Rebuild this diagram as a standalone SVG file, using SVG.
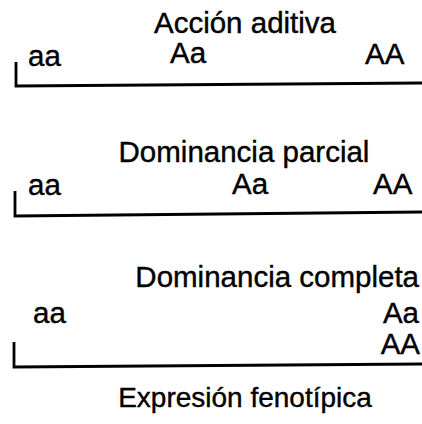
<svg xmlns="http://www.w3.org/2000/svg" width="422" height="424" viewBox="0 0 422 424">
<style>
text{font-family:"Liberation Sans",Arial,sans-serif;font-size:29.5px;fill:#000;stroke:#000;stroke-width:0.4}
.c{text-anchor:middle}
.e{text-anchor:end}
.ax{fill:none;stroke:#000;stroke-width:2.8}
</style>
<rect width="422" height="424" fill="#fff"/>
<g id="connectors">
<path class="ax" d="M16,62 V86 L422,83"/>
<path class="ax" d="M15,191 V216 L422,212"/>
<path class="ax" d="M14,342 V367 L422,364"/>
</g>
<g id="aditiva">
<text class="c" x="245" y="33">Acción aditiva</text>
<text x="28" y="66">aa</text>
<text x="170" y="63">Aa</text>
<text x="365" y="64">AA</text>
</g>
<g id="parcial">
<text class="c" x="244" y="162">Dominancia parcial</text>
<text x="28" y="195">aa</text>
<text x="232" y="194">Aa</text>
<text x="373" y="194">AA</text>
</g>
<g id="completa">
<text class="e" x="419" y="287">Dominancia completa</text>
<text x="33" y="323">aa</text>
<text class="e" x="419" y="323">Aa</text>
<text class="e" x="420" y="354">AA</text>
</g>
<g id="expresion">
<text class="c" x="245" y="407" style="font-size:28px">Expresión fenotípica</text>
</g>
</svg>
